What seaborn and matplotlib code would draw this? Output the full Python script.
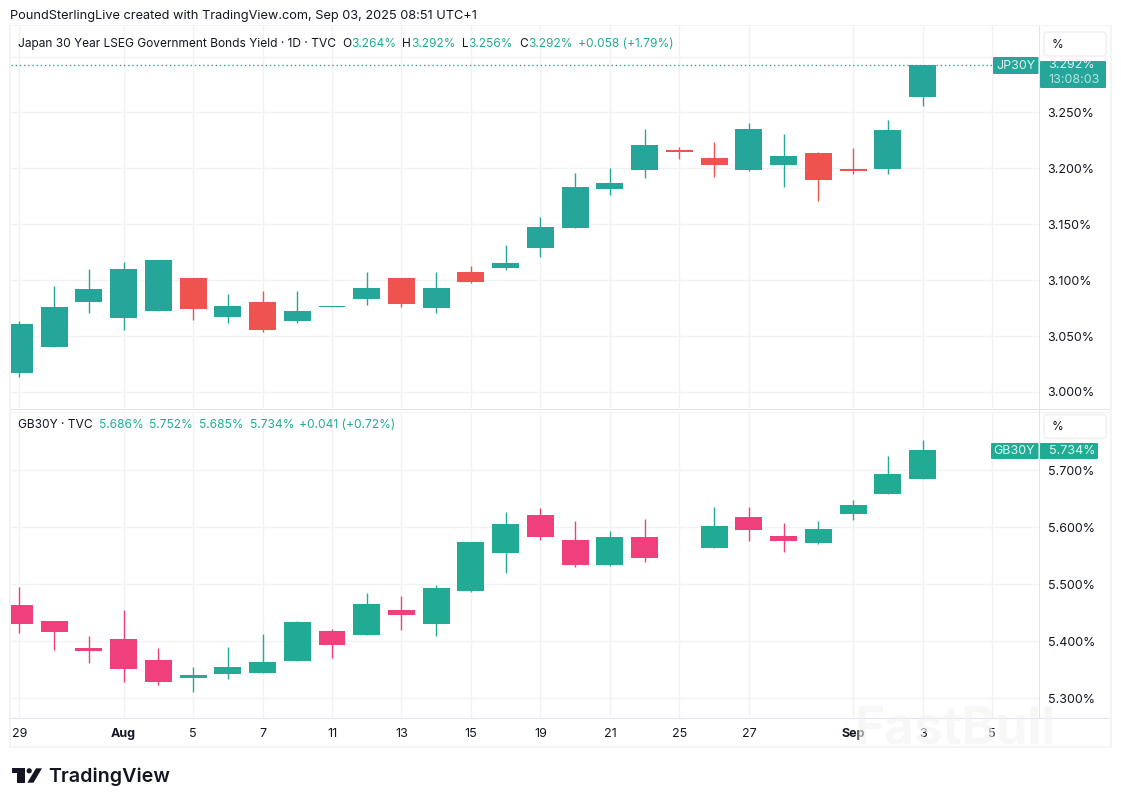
import numpy as np
import matplotlib
matplotlib.use("Agg")
import matplotlib.pyplot as plt
import seaborn as sns
from matplotlib.patches import Rectangle, FancyBboxPatch, Polygon, Circle

# ---------- data ----------
tick_idx = [0, 3, 5, 7, 9, 11, 13, 15, 17, 19, 21, 24, 26, 28]
tick_labels = ["29", "Aug", "5", "7", "11", "13", "15", "19", "21", "25", "27", "Sep", "3", "5"]
bold_ticks = ["Aug", "Sep"]

jp_idx = list(range(27))
jp_open = [3.017, 3.040, 3.080, 3.066, 3.072, 3.102, 3.067, 3.080, 3.063, 3.0762, 3.083, 3.102, 3.075, 3.107,
           3.111, 3.129, 3.147, 3.1815, 3.1985, 3.216, 3.209, 3.1985, 3.203, 3.2135, 3.1995, 3.1995, 3.264]
jp_high = [3.063, 3.095, 3.110, 3.116, 3.118, 3.102, 3.088, 3.090, 3.090, 3.0771, 3.107, 3.102, 3.107, 3.113,
           3.131, 3.1565, 3.196, 3.200, 3.235, 3.219, 3.2235, 3.2405, 3.231, 3.2145, 3.218, 3.243, 3.292]
jp_low = [3.013, 3.040, 3.071, 3.055, 3.072, 3.064, 3.062, 3.054, 3.0615, 3.0762, 3.078, 3.076, 3.071, 3.097,
          3.109, 3.121, 3.147, 3.176, 3.191, 3.208, 3.192, 3.1975, 3.183, 3.171, 3.195, 3.195, 3.256]
jp_close = [3.061, 3.076, 3.092, 3.110, 3.118, 3.074, 3.077, 3.055, 3.072, 3.0771, 3.093, 3.079, 3.093, 3.098,
            3.115, 3.1475, 3.183, 3.187, 3.221, 3.2145, 3.203, 3.235, 3.211, 3.1895, 3.1975, 3.234, 3.292]

gb_idx = [0, 1, 2, 3, 4, 5, 6, 7, 8, 9, 10, 11, 12, 13, 14, 15, 16, 17, 18, 20, 21, 22, 23, 24, 25, 26]
gb_open = [5.464, 5.4355, 5.388, 5.404, 5.367, 5.3355, 5.3425, 5.344, 5.365, 5.418, 5.411, 5.455, 5.430, 5.488,
           5.555, 5.622, 5.578, 5.534, 5.583, 5.564, 5.618, 5.585, 5.572, 5.623, 5.658, 5.685]
gb_high = [5.495, 5.4355, 5.409, 5.455, 5.388, 5.355, 5.390, 5.413, 5.4355, 5.4215, 5.485, 5.479, 5.499, 5.574,
           5.627, 5.634, 5.611, 5.5935, 5.6145, 5.636, 5.636, 5.6075, 5.611, 5.648, 5.725, 5.753]
gb_low = [5.4145, 5.385, 5.362, 5.3285, 5.323, 5.311, 5.334, 5.344, 5.365, 5.371, 5.411, 5.420, 5.409, 5.486,
          5.520, 5.578, 5.530, 5.532, 5.539, 5.564, 5.576, 5.557, 5.571, 5.613, 5.658, 5.685]
gb_close = [5.430, 5.416, 5.383, 5.351, 5.3285, 5.341, 5.355, 5.3635, 5.434, 5.393, 5.465, 5.446, 5.493, 5.574,
            5.606, 5.583, 5.534, 5.583, 5.546, 5.602, 5.595, 5.576, 5.597, 5.639, 5.6935, 5.736]

jp_ticks = [3.00, 3.05, 3.10, 3.15, 3.20, 3.25]
gb_ticks = [5.3, 5.4, 5.5, 5.6, 5.7]

jp_last = 3.292
gb_last = 5.734

header_text = "PoundSterlingLive created with TradingView.com, Sep 03, 2025 08:51 UTC+1"
jp_title = "Japan 30 Year LSEG Government Bonds Yield · 1D · TVC"
jp_legend = [("O", "3.264%", 342, 351), ("H", "3.292%", 402, 411), ("L", "3.256%", 462, 468), ("C", "3.292%", 519, 528)]
jp_change = "+0.058 (+1.79%)"
gb_title = "GB30Y · TVC"
gb_legend = [("5.686%", 99), ("5.752%", 149), ("5.685%", 199), ("5.734%", 250), ("+0.041 (+0.72%)", 299)]

# ---------- style ----------
W, H = 1121, 806
JP_UP, JP_DN = "#26A69A", "#EF5350"
GB_UP, GB_DN = "#22AB94", "#EF3F7C"
TXT = "#131722"
GRID = "#F1F2F5"
BAND = "#F3F4F6"
SEP = "#E0E3EB"
FS = 8.6

sns.set_theme(style="white")
plt.rcParams["font.family"] = ["Inter", "DejaVu Sans"]

fig = plt.figure(figsize=(W / 100, H / 100), dpi=100, facecolor="white")


def px_axes(x0, y0, x1, y1, **kw):
    return fig.add_axes([x0 / W, 1 - y1 / H, (x1 - x0) / W, (y1 - y0) / H], **kw)


ax1 = px_axes(10.5, 26, 1039, 408)
ax2 = px_axes(10.5, 413, 1039, 718)


def candles(ax, idx, o, h, l, c, up, dn):
    idx, o, h, l, c = map(np.asarray, (idx, o, h, l, c))
    rising = c >= o
    for mask, col in ((rising, up), (~rising, dn)):
        ax.vlines(idx[mask], l[mask], h[mask], color=col, lw=1.0, zorder=3)
        bottom = np.minimum(o, c)[mask]
        height = np.abs(c - o)[mask]
        sns.barplot(x=idx[mask], y=height, bottom=bottom, color=col, saturation=1,
                    native_scale=True, width=0.777, errorbar=None, orient="x",
                    linewidth=0, ax=ax, zorder=4)


candles(ax1, jp_idx, jp_open, jp_high, jp_low, jp_close, JP_UP, JP_DN)
candles(ax2, gb_idx, gb_open, gb_high, gb_low, gb_close, GB_UP, GB_DN)

for ax, ticks, fmt, ylim in (
    (ax1, jp_ticks, "{:.3f}%", (2.9856, 3.3273)),
    (ax2, gb_ticks, "{:.3f}%", (5.2653, 5.8006)),
):
    ax.set_xlim(-0.254, 29.35)
    ax.set_ylim(*ylim)
    ax.set_xlabel("")
    ax.set_ylabel("")
    ax.set_facecolor("white")
    ax.set_axisbelow(True)
    ax.grid(True, color=GRID, lw=1.0)
    for s in ax.spines.values():
        s.set_visible(False)
    ax.set_yticks(ticks)
    ax.set_yticklabels([fmt.format(t) for t in ticks], fontsize=9.0, color=TXT)
    ax.yaxis.tick_right()
    ax.tick_params(axis="y", length=0, pad=6.2, right=False, left=False)
    ax.set_xticks(tick_idx)

# extra horizontal grid line above the data range
ax1.set_yticks([3.30], minor=True)
ax1.grid(True, which="minor", axis="y", color=GRID, lw=1.0)
ax1.tick_params(axis="y", which="minor", length=0)
ax2.set_yticks([], minor=True)

ax1.tick_params(axis="x", length=0, labelbottom=False)
ax2.set_xticklabels(tick_labels, fontsize=9.0, color=TXT)
ax2.tick_params(axis="x", length=0, pad=7)
for lab in ax2.get_xticklabels():
    if lab.get_text() in bold_ticks:
        lab.set_fontweight("bold")

# last-price dotted line
ax1.axhline(jp_last, xmax=(993 - 10.5) / 1028.5, color=JP_UP, lw=1.0, ls=(0, (1, 2)), zorder=2)

# ---------- overlay with chrome, tags and text ----------
ov = fig.add_axes([0, 0, 1, 1], facecolor="none", zorder=10)
ov.set_xlim(0, W)
ov.set_ylim(H, 0)
ov.axis("off")

# frame
for rect, col in (
    ((9, 24.5, 1102, 1.8), BAND),
    ((9, 24.5, 1.6, 723), BAND),
    ((1110, 24.5, 1.6, 723), BAND),
    ((9, 745.5, 1102.6, 2), BAND),
    ((10, 408.5, 1100, 1.2), SEP),
    ((10, 412.2, 1100, 0.8), "#EFF1F4"),
    ((10, 718, 1100, 1.0), SEP),
    ((1039, 26, 1.0, 692), SEP),
):
    ov.add_patch(Rectangle(rect[:2], rect[2], rect[3], fc=col, ec="none", zorder=1))

# % buttons
for y0 in (31, 413.5):
    ov.add_patch(FancyBboxPatch((1044, y0 + 1), 62, 24, boxstyle="round,pad=0,rounding_size=3",
                                fc="white", ec="#F0F1F4", lw=1.2, zorder=2))
    ov.text(1057.5, y0 + 13.5, "%", fontsize=8.6, color=TXT, ha="center", va="center", zorder=3)

# price tags
ov.add_patch(FancyBboxPatch((993, 57), 45.5, 17, boxstyle="round,pad=0,rounding_size=1", fc=JP_UP, ec="none", zorder=2))
ov.text(1016, 65.7, "JP30Y", fontsize=9.0, color="#DDF3F0", ha="center", va="center", zorder=3)
ov.add_patch(FancyBboxPatch((1040, 61), 66, 27, boxstyle="round,pad=0,rounding_size=1", fc=JP_UP, ec="none", zorder=2))
ov.text(1048.5, 65.3, f"{jp_last:.3f}%", fontsize=9.0, color="#DDF3F0", ha="left", va="center", zorder=3)
ov.text(1048.5, 80, "13:08:03", fontsize=9.0, color="#B5E3DE", ha="left", va="center", zorder=3)

ov.add_patch(FancyBboxPatch((991, 443), 47.5, 16, boxstyle="round,pad=0,rounding_size=1", fc=GB_UP, ec="none", zorder=2))
ov.text(1014.5, 451, "GB30Y", fontsize=9.0, color="#E4F6F2", ha="center", va="center", zorder=3)
ov.add_patch(FancyBboxPatch((1040, 443), 58, 16, boxstyle="round,pad=0,rounding_size=1", fc=GB_UP, ec="none", zorder=2))
ov.text(1048.5, 451, f"{gb_last:.3f}%", fontsize=9.0, color="#E4F6F2", ha="left", va="center", zorder=3)

# header & legends
ov.text(10, 16, header_text, fontsize=9.2, color=TXT, ha="left", va="center")
ov.text(18, 44, jp_title, fontsize=FS, color=TXT, ha="left", va="center")
for letter, val, xl, xv in jp_legend:
    ov.text(xl, 44, letter, fontsize=FS, color=TXT, ha="left", va="center")
    ov.text(xv, 44, val, fontsize=FS, color=GB_UP, ha="left", va="center")
ov.text(578, 44, jp_change, fontsize=FS, color=GB_UP, ha="left", va="center")
ov.text(18, 425.5, gb_title, fontsize=FS, color=TXT, ha="left", va="center")
for val, xv in gb_legend:
    ov.text(xv, 425.5, val, fontsize=FS, color=GB_UP, ha="left", va="center")

# watermark
ov.text(955, 730, "FastBull", fontsize=37, fontweight="bold", color="#F2F2F4", alpha=0.6,
        ha="center", va="center", zorder=6)

# TradingView logo
LOGO = "#131722"
ov.add_patch(Polygon([(12.3, 768.3), (25, 768.3), (25, 782.7), (17.3, 782.7), (17.3, 773.3), (12.3, 773.3)], fc=LOGO, ec="none"))
ov.add_patch(Circle((29.2, 770.8), 2.6, fc=LOGO, ec="none"))
ov.add_patch(Polygon([(42, 768.3), (36, 768.3), (27.3, 782.7), (33.5, 782.7)], fc=LOGO, ec="none"))
ov.text(48.5, 776.5, "TradingView", fontsize=14.2, fontweight="semibold", color=LOGO, ha="left", va="center")

fig.savefig("out.png", dpi=100, facecolor="white")
